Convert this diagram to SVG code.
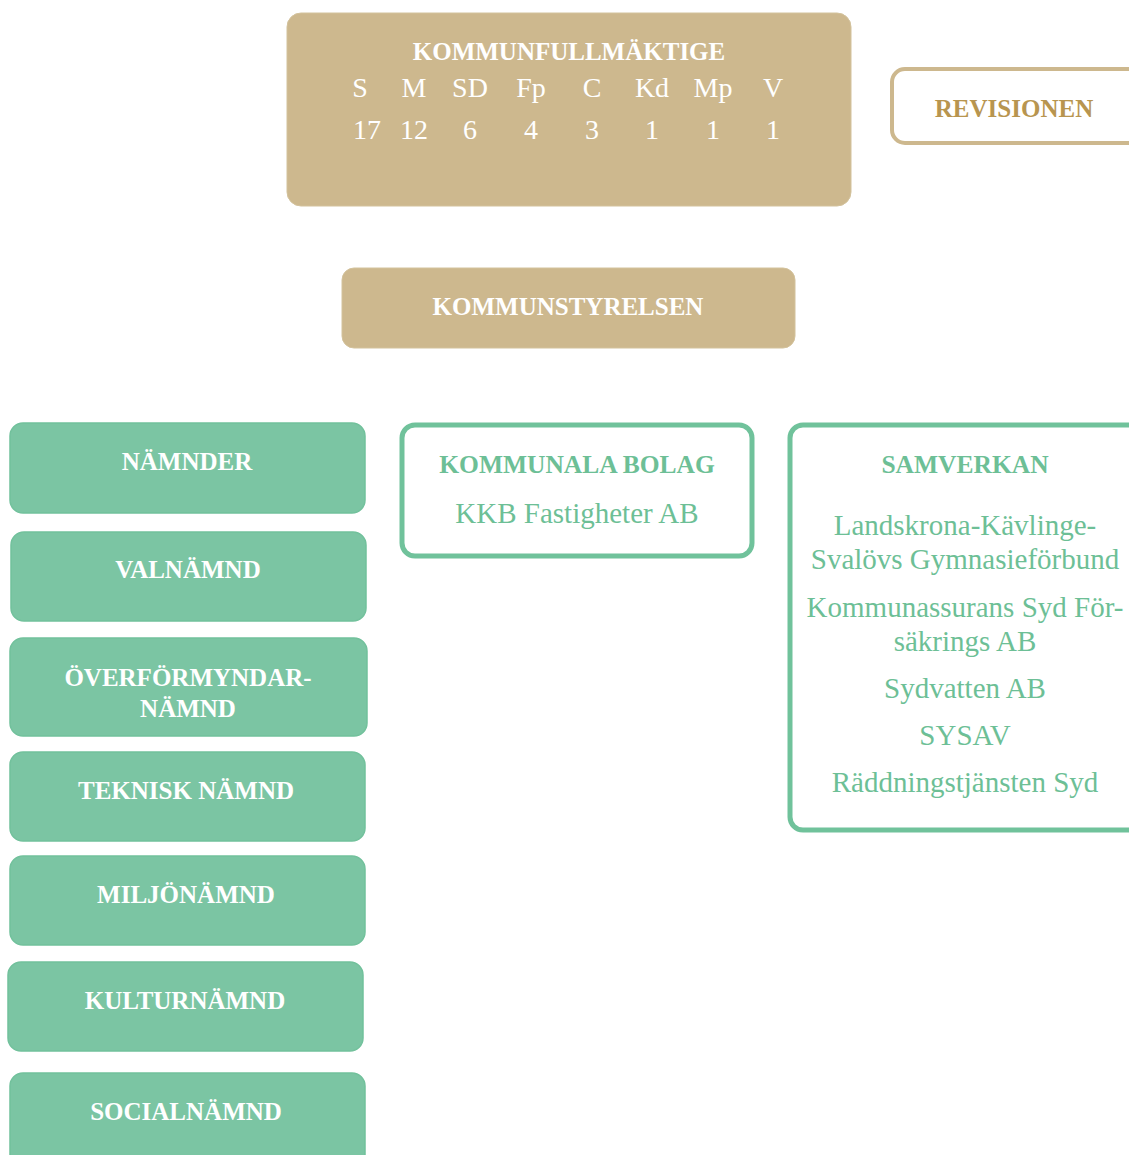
<svg xmlns="http://www.w3.org/2000/svg" width="1129" height="1155" viewBox="0 0 1129 1155">
<style>
.gold{fill:#cdb88e;stroke:#d3c29c;stroke-width:1}
.goldo{fill:#fff;stroke:#cdb88e;stroke-width:4}
.green{fill:#7bc5a3;stroke:#72c19c;stroke-width:1.5}
.greeno{fill:#fff;stroke:#70c29b;stroke-width:5}
text{font-family:"Liberation Serif","Times New Roman",serif;text-anchor:middle}
.wb{fill:#fff;font-weight:bold;font-size:25px}
.w{fill:#fff;font-size:28px}
.gt{fill:#6dbf96;font-size:29px}
.gtb{fill:#6dbf96;font-weight:bold;font-size:25.5px}
</style>
<g id="kommunfullmaktige">
<rect class="gold" x="287" y="13" width="564" height="193" rx="14"/>
<text class="wb" x="569" y="60">KOMMUNFULLMÄKTIGE</text>
<text class="w" x="360" y="97">S</text>
<text class="w" x="414" y="97">M</text>
<text class="w" x="470" y="97">SD</text>
<text class="w" x="531" y="97">Fp</text>
<text class="w" x="592" y="97">C</text>
<text class="w" x="652" y="97">Kd</text>
<text class="w" x="713" y="97">Mp</text>
<text class="w" x="773" y="97">V</text>
<text class="w" x="367" y="139">17</text>
<text class="w" x="414" y="139">12</text>
<text class="w" x="470" y="139">6</text>
<text class="w" x="531" y="139">4</text>
<text class="w" x="592" y="139">3</text>
<text class="w" x="652" y="139">1</text>
<text class="w" x="713" y="139">1</text>
<text class="w" x="773" y="139">1</text>
</g>
<g id="revisionen">
<rect class="goldo" x="892" y="69" width="260" height="74" rx="13"/>
<text x="1014" y="117" font-size="25" font-weight="bold" fill="#b8954f">REVISIONEN</text>
</g>
<g id="kommunstyrelsen">
<rect class="gold" x="342" y="268" width="453" height="80" rx="12"/>
<text class="wb" x="568" y="315">KOMMUNSTYRELSEN</text>
</g>
<g id="namnder">
<rect class="green" x="10" y="423" width="355" height="90" rx="13"/>
<text class="wb" x="187" y="470">NÄMNDER</text>
</g>
<g id="valnamnd">
<rect class="green" x="11" y="532" width="355" height="89" rx="13"/>
<text class="wb" x="188" y="578">VALNÄMND</text>
</g>
<g id="overformyndarnamnd">
<rect class="green" x="10" y="638" width="357" height="98" rx="13"/>
<text class="wb" x="188" y="686">ÖVERFÖRMYNDAR-</text>
<text class="wb" x="188" y="717">NÄMND</text>
</g>
<g id="teknisknamnd">
<rect class="green" x="10" y="752" width="355" height="89" rx="13"/>
<text class="wb" x="186" y="799">TEKNISK NÄMND</text>
</g>
<g id="miljonamnd">
<rect class="green" x="10" y="856" width="355" height="89" rx="13"/>
<text class="wb" x="186" y="903">MILJÖNÄMND</text>
</g>
<g id="kulturnamnd">
<rect class="green" x="8" y="962" width="355" height="89" rx="13"/>
<text class="wb" x="185" y="1009">KULTURNÄMND</text>
</g>
<g id="socialnamnd">
<rect class="green" x="10" y="1073" width="355" height="100" rx="13"/>
<text class="wb" x="186" y="1120">SOCIALNÄMND</text>
</g>
<g id="kommunala-bolag">
<rect class="greeno" x="402" y="425" width="350" height="131" rx="13"/>
<text class="gtb" x="577" y="473">KOMMUNALA BOLAG</text>
<text class="gt" x="577" y="523">KKB Fastigheter AB</text>
</g>
<g id="samverkan">
<rect class="greeno" x="790" y="425" width="360" height="405" rx="13"/>
<text class="gtb" x="965" y="473">SAMVERKAN</text>
<text class="gt" x="965" y="535">Landskrona-Kävlinge-</text>
<text class="gt" x="965" y="569">Svalövs Gymnasieförbund</text>
<text class="gt" x="965" y="617">Kommunassurans Syd För-</text>
<text class="gt" x="965" y="651">säkrings AB</text>
<text class="gt" x="965" y="698">Sydvatten AB</text>
<text class="gt" x="965" y="745">SYSAV</text>
<text class="gt" x="965" y="792">Räddningstjänsten Syd</text>
</g>
<g id="connectors"/>
</svg>
